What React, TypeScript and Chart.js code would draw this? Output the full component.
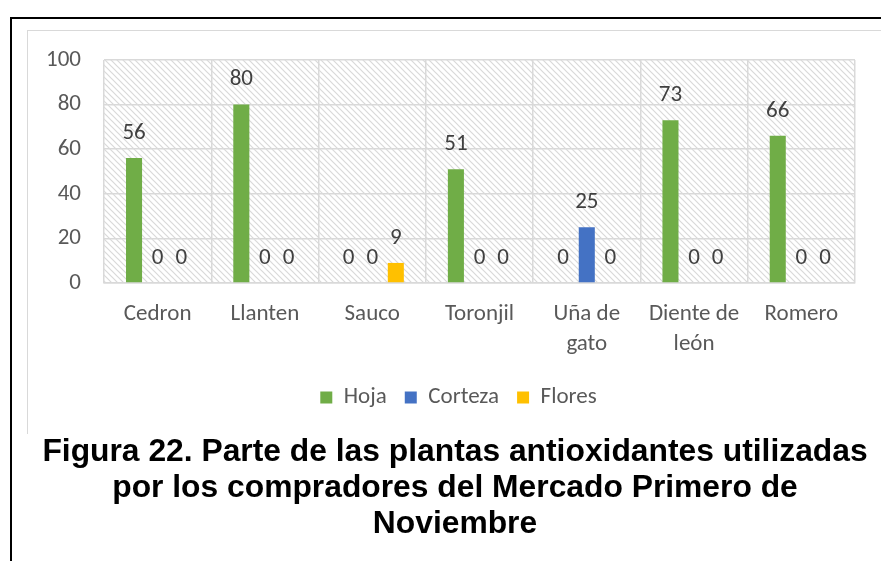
import React, { useEffect, useRef } from "react";
import { Chart, registerables } from "chart.js";

Chart.register(...registerables);

const categories: (string | string[])[] = [
  "Cedron",
  "Llanten",
  "Sauco",
  "Toronjil",
  ["Uña de", "gato"],
  ["Diente de", "león"],
  "Romero",
];
const hoja = [56, 80, 0, 51, 0, 73, 66];
const corteza = [0, 0, 0, 0, 25, 0, 0];
const flores = [0, 0, 9, 0, 0, 0, 0];
const seriesNames = ["Hoja", "Corteza", "Flores"];
const seriesColors = ["#70ad47", "#4472c4", "#ffc000"];
const titleLines = [
  "Figura 22. Parte de las plantas antioxidantes utilizadas",
  "por los compradores del Mercado Primero de",
  "Noviembre",
];

const FONT = "Carlito, Lato, 'Liberation Sans', sans-serif";
const TEXT = "#595959";
const FS = 23;

function makePattern(ctx: CanvasRenderingContext2D) {
  const s = 6;
  const c = document.createElement("canvas");
  c.width = s;
  c.height = s;
  const p = c.getContext("2d")!;
  p.fillStyle = "#ffffff";
  p.fillRect(0, 0, s, s);
  p.strokeStyle = "#d9d9d9";
  p.lineWidth = 1.2;
  p.beginPath();
  p.moveTo(-1, -1);
  p.lineTo(s + 1, s + 1);
  p.moveTo(-1, s - 1);
  p.lineTo(1, s + 1);
  p.moveTo(s - 1, -1);
  p.lineTo(s + 1, 1);
  p.stroke();
  return ctx.createPattern(c, "repeat");
}

const hatchPlugin = {
  id: "hatch",
  afterLayout(chart: any) {
    const lg = chart.legend;
    if (lg) {
      lg.left += 17;
      lg.right += 17;
    }
  },
  beforeDraw(chart: any) {
    const { ctx, chartArea } = chart;
    const pat = makePattern(ctx);
    ctx.save();
    ctx.fillStyle = pat || "#fff";
    ctx.fillRect(
      chartArea.left,
      chartArea.top,
      chartArea.right - chartArea.left,
      chartArea.bottom - chartArea.top
    );
    ctx.restore();
  },
};

const labelPlugin = {
  id: "valueLabels",
  afterDatasetsDraw(chart: any) {
    const { ctx } = chart;
    ctx.save();
    ctx.font = `${FS}px ${FONT}`;
    ctx.fillStyle = "#404040";
    ctx.textAlign = "center";
    ctx.textBaseline = "middle";
    chart.data.datasets.forEach((ds: any, i: number) => {
      const meta = chart.getDatasetMeta(i);
      meta.data.forEach((bar: any, j: number) => {
        ctx.fillText(String(ds.data[j]), bar.x, bar.y - 25);
      });
    });
    ctx.restore();
  },
};

export default function App() {
  const ref = useRef<HTMLCanvasElement>(null);
  useEffect(() => {
    document.body.style.overflow = "hidden";
    const chart = new Chart(ref.current!, {
      type: "bar",
      data: {
        labels: categories,
        datasets: [hoja, corteza, flores].map((d, i) => ({
          label: seriesNames[i],
          data: d,
          backgroundColor: seriesColors[i],
          borderWidth: 0,
          categoryPercentage: 0.66,
          barPercentage: 0.68,
        })),
      },
      options: {
        responsive: false,
        animation: false,
        layout: { padding: { top: 29, right: 27, bottom: 14, left: 0 } },
        plugins: {
          legend: {
            position: "bottom",
            labels: {
              font: { family: FONT, size: FS },
              color: TEXT,
              boxWidth: 12,
              boxHeight: 12,
              padding: 18,
            },
          },
          tooltip: { enabled: false },
        },
        scales: {
          x: {
            grid: {
              color: "#d9d9d9",
              lineWidth: 1.5,
              drawTicks: false,
              offset: true,
            },
            border: { color: "#d9d9d9", width: 1.5 },
            ticks: {
              font: { family: FONT, size: FS, lineHeight: 1.3 },
              color: TEXT,
              padding: 16,
              maxRotation: 0,
              autoSkip: false,
            },
            afterFit(scale: any) {
              scale.height = 85;
              scale.paddingLeft = 0;
              scale.paddingRight = 0;
            },
          },
          y: {
            min: 0,
            max: 100,
            ticks: {
              stepSize: 20,
              font: { family: FONT, size: FS },
              color: TEXT,
              padding: 23,
            },
            grid: { color: "#d9d9d9", lineWidth: 1.5, drawTicks: false },
            border: { display: false },
            afterFit(scale: any) {
              scale.width = 76;
              scale.paddingTop = 0;
              scale.paddingBottom = 0;
            },
          },
        },
      },
      plugins: [hatchPlugin, labelPlugin],
    });
    return () => chart.destroy();
  }, []);

  return (
    <div>
      <div
        style={{
          position: "absolute",
          left: 10,
          top: 17,
          width: 871,
          height: 2,
          background: "#000",
        }}
      />
      <div
        style={{
          position: "absolute",
          left: 10,
          top: 17,
          width: 2,
          height: 544,
          background: "#000",
        }}
      />
      <div
        style={{
          position: "absolute",
          left: 27,
          top: 30,
          width: 854,
          height: 1,
          background: "#d9d9d9",
        }}
      />
      <div
        style={{
          position: "absolute",
          left: 27,
          top: 30,
          width: 1,
          height: 404,
          background: "#d9d9d9",
        }}
      />
      <canvas
        ref={ref}
        width={854}
        height={402}
        style={{ position: "absolute", left: 28, top: 31 }}
      />
      <div
        style={{
          position: "absolute",
          left: 29,
          top: 432,
          width: 852,
          textAlign: "center",
          fontFamily: "'Liberation Sans', Arial, sans-serif",
          fontWeight: "bold",
          fontSize: 31.8,
          lineHeight: "36px",
          color: "#000",
        }}
      >
        {titleLines.map((t, i) => (
          <div key={i}>{t}</div>
        ))}
      </div>
    </div>
  );
}
